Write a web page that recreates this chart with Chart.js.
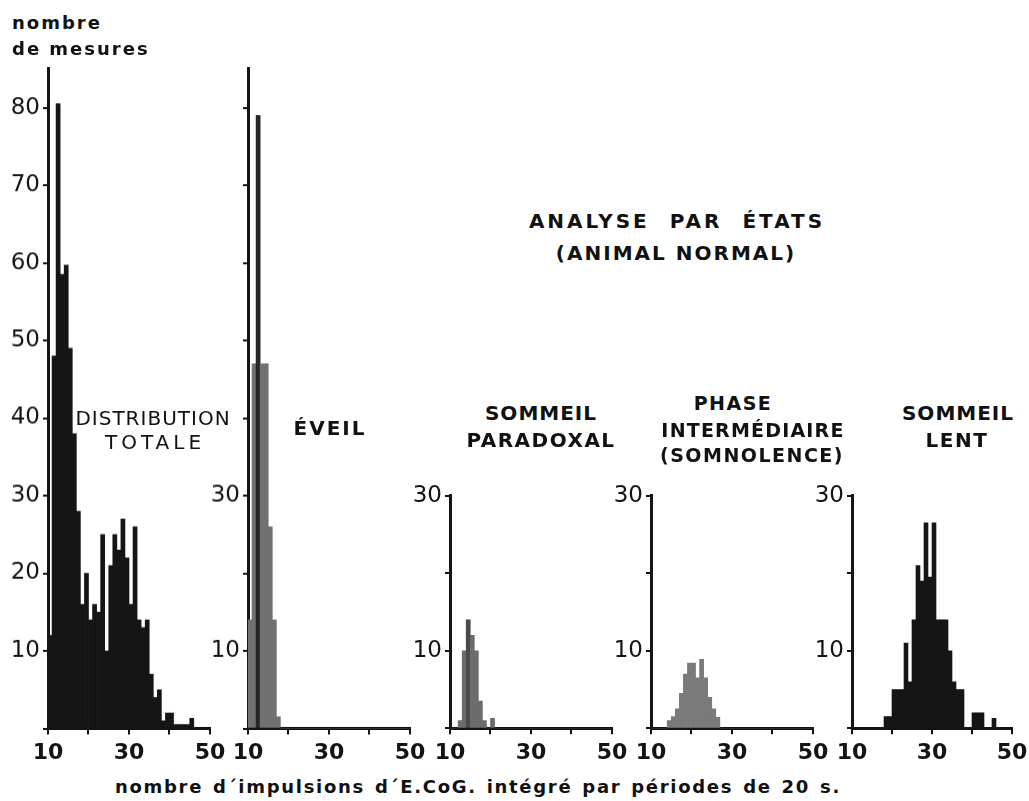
<!DOCTYPE html>
<html>
<head>
<meta charset="utf-8">
<script src="https://cdn.jsdelivr.net/npm/chart.js@4.4.1/dist/chart.umd.min.js"></script>
<style>
  html, body { margin: 0; padding: 0; background: #ffffff; }
  #stage { position: relative; width: 1029px; height: 801px; overflow: hidden; background: #fff; }
  .wrap { position: absolute; }
  .txt { position: absolute; transform: translate(-50%, -50%); white-space: nowrap;
         font-family: "DejaVu Sans", "Liberation Sans", sans-serif; color: #111; line-height: 1; }
  .lft { transform: translate(0, -50%); }
</style>
</head>
<body>
<div id="stage"></div>
<script>
// ---- data ----
// histogram bins: start value of each unit-wide class
const bins = [10,11,12,13,14,15,16,17,18,19,20,21,22,23,24,25,26,27,28,29,
              30,31,32,33,34,35,36,37,38,39,40,41,42,43,44,45,46,47,48,49];
const distributionTotale = [12,48,80.5,58.5,59.7,49,38,28,16,20,14,16,15,25,10,21,25,23,27,22,
                            16,26,14,13,14,7,4,5,1,2,2,0.5,0.5,0.5,0.5,1.3,0,0,0,0];
const eveil              = [14,47,79,47,47,26,14,1.5,0,0,0,0,0,0,0,0,0,0,0,0,
                            0,0,0,0,0,0,0,0,0,0,0,0,0,0,0,0,0,0,0,0];
const sommeilParadoxal   = [0,0,1,10,14,12,10,3.5,1,0,1.3,0,0,0,0,0,0,0,0,0,
                            0,0,0,0,0,0,0,0,0,0,0,0,0,0,0,0,0,0,0,0];
const phaseIntermediaire = [0,0,0,0,1,1.5,2.5,4.5,7,8.4,8.4,6.5,8.9,6.5,4,2.5,1.4,0,0,0,
                            0,0,0,0,0,0,0,0,0,0,0,0,0,0,0,0,0,0,0,0];
const sommeilLent        = [0,0,0,0,0,0,0,0,1.5,1.5,5,5,5,11,6,14,21,19,26.5,19.5,
                            26.5,14,14,14,10,6,5,5,0,0,2,2,2,0,0,1.3,0,0,0,0];
const xTickLabels = [10, 30, 50];
const yLabelsBig = [10,20,30,40,50,60,70,80];
const yLabelsSmall = [10, 30];

// ---- layout ----
const PX_PER_UNIT = 7.75, BASE = 728;
const stage = document.getElementById('stage');
const FONT = '"DejaVu Sans", "Liberation Sans", sans-serif';
const INK = '#141414';

function panel(values, colors, L, R, yMax, yShown) {
  const T = BASE - yMax * PX_PER_UNIT;
  const YW = 50, XH = 45, PT = 16, PR = 18;
  const wrap = document.createElement('div');
  wrap.className = 'wrap';
  const W = YW + (R - L) + PR, H = PT + (BASE - T) + XH;
  wrap.style.width = W + 'px'; wrap.style.height = H + 'px';
  wrap.style.left = (L - YW) + 'px'; wrap.style.top = (T - PT) + 'px';
  const cv = document.createElement('canvas');
  wrap.appendChild(cv); stage.appendChild(wrap);
  const data = bins.map((b, i) => ({ x: b + 0.5, y: values[i] }));
  const chart = new Chart(cv, {
    type: 'bar',
    data: { datasets: [{ data, backgroundColor: colors, borderWidth: 0,
                         barPercentage: 1, categoryPercentage: 1 }] },
    options: {
      responsive: true, maintainAspectRatio: false, animation: false,
      layout: { padding: { top: PT, right: PR, left: 0, bottom: 0 } },
      plugins: { legend: { display: false }, tooltip: { enabled: false } },
      scales: {
        x: {
          type: 'linear', min: 10, max: 50, offset: false,
          afterFit: s => { s.height = XH; },
          border: { display: true, color: INK, width: 3 },
          grid: { display: true, drawOnChartArea: false, drawTicks: true, tickLength: 6,
                  color: INK, lineWidth: 2, offset: false },
          ticks: { stepSize: 10, padding: 6, color: INK, maxRotation: 0, autoSkip: false,
                   font: { family: FONT, size: 22, weight: 'bold' },
                   callback: v => xTickLabels.includes(v) ? String(v) : '' }
        },
        y: {
          type: 'linear', min: 0, max: yMax,
          afterFit: s => { s.width = YW; },
          border: { display: true, color: INK, width: 3 },
          grid: { display: true, drawOnChartArea: false, drawTicks: true, tickLength: 5,
                  color: INK, lineWidth: 2 },
          ticks: { stepSize: 10, includeBounds: false, padding: 3, color: INK,
                   font: { family: FONT, size: 23 },
                   callback: v => yShown.includes(v) ? String(v) : '' }
        }
      }
    }
  });
  // align the plot area exactly on the reference position
  let ca = chart.chartArea;
  const dw = (R - L) - (ca.right - ca.left), dh = (BASE - T) - (ca.bottom - ca.top);
  if (Math.abs(dw) > 0.4 || Math.abs(dh) > 0.4) {
    wrap.style.width = (W + dw) + 'px'; wrap.style.height = (H + dh) + 'px';
    chart.resize(); ca = chart.chartArea;
  }
  wrap.style.left = (L - ca.left) + 'px';
  wrap.style.top = (T - ca.top) + 'px';
  return chart;
}

const BLACK = '#151515', GREY = '#717171';
panel(distributionTotale, BLACK, 48, 210, 85, yLabelsBig);
panel(eveil, bins.map(b => b === 12 ? '#262626' : GREY), 248, 410, 85, yLabelsSmall);
panel(sommeilParadoxal, bins.map(b => b === 14 ? '#4a4a4a' : '#6c6c6c'), 450, 612, 30, yLabelsSmall);
panel(phaseIntermediaire, '#7a7a7a', 651, 813, 30, yLabelsSmall);
panel(sommeilLent, BLACK, 852, 1012, 30, yLabelsSmall);

// ---- texts ----
function txt(s, x, y, size, weight, ls, extraClass, ws) {
  const d = document.createElement('div');
  d.className = 'txt' + (extraClass ? ' ' + extraClass : '');
  d.textContent = s;
  d.style.left = x + 'px'; d.style.top = y + 'px';
  d.style.fontSize = size + 'px'; d.style.fontWeight = weight;
  d.style.letterSpacing = ls + 'px';
  if (ws) d.style.wordSpacing = ws + 'px';
  stage.appendChild(d);
}
txt('nombre', 12, 23, 18, 'bold', 2, 'lft');
txt('de mesures', 12, 49, 18, 'bold', 2, 'lft');
txt('ANALYSE PAR ÉTATS', 677, 221, 20, 'bold', 3, '', 10);
txt('(ANIMAL NORMAL)', 676, 253, 20, 'bold', 2);
txt('DISTRIBUTION', 153, 418, 20, 'normal', 1);
txt('TOTALE', 155, 442, 20, 'normal', 4);
txt('ÉVEIL', 330, 428, 20, 'bold', 2);
txt('SOMMEIL', 541, 413, 20, 'bold', 1);
txt('PARADOXAL', 541, 440, 20, 'bold', 1.5);
txt('PHASE', 733, 403, 19, 'bold', 1.5);
txt('INTERMÉDIAIRE', 753, 430, 19, 'bold', 1.2);
txt('(SOMNOLENCE)', 752, 455, 19, 'bold', 1.5);
txt('SOMMEIL', 958, 413, 20, 'bold', 1);
txt('LENT', 957, 440, 20, 'bold', 1.5);
txt('nombre d´impulsions d´E.CoG. intégré  par périodes de  20 s.', 478, 787, 18, 'bold', 1.7, '', 2);
</script>
</body>
</html>
